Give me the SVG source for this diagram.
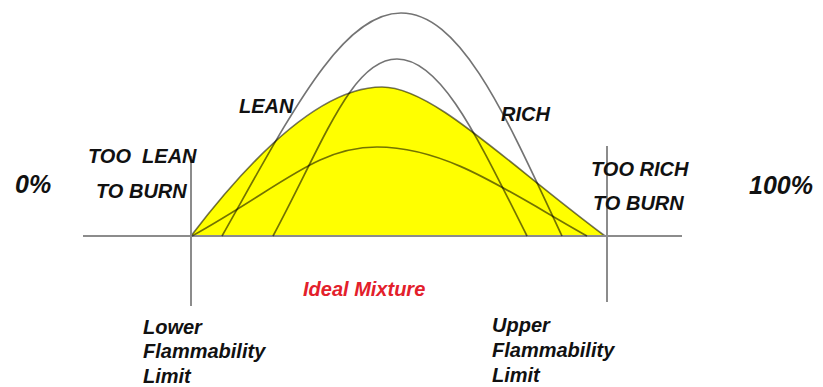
<svg xmlns="http://www.w3.org/2000/svg" width="823" height="387" viewBox="0 0 823 387">
  <style>
    .lbl { font-family: "Liberation Sans", Arial, sans-serif; font-weight: bold; font-style: italic; font-size: 20px; fill: #111; }
    .pct { font-size: 25px; }
    .red { fill: #e3202b; }
    .axis { stroke: #8c8c8c; stroke-width: 2; fill: none; }
    .curve { stroke: #000; stroke-opacity: 0.55; stroke-width: 1.7; fill: none; }
  </style>
  <rect width="823" height="387" fill="#fff"/>

  <!-- flammable region -->
  <g id="zone">
    <path d="M191,236 C252,156 322,87 382,87 C432,87 505,161.5 605,236 Z" fill="#ffff00" stroke="#000" stroke-opacity="0.55" stroke-width="1.7"/>
  </g>

  <!-- axis and limit markers -->
  <g id="axes">
    <line class="axis" x1="83" y1="236" x2="682" y2="236"/>
    <line class="axis" x1="191" y1="156" x2="191" y2="306"/>
    <line class="axis" x1="607" y1="146" x2="607" y2="302"/>
  </g>

  <!-- overlapping burning curves -->
  <g id="curves">
    <path class="curve" d="M192,236 C282,186 317,147 377,147 C447,147 507,191 587,236"/>
    <path class="curve" d="M273,236 C324,141 352,59 397,59 C442,59 479,141 527,236"/>
    <path class="curve" d="M222,236 C290,116 341,13 401,13 C461,13 506,116 562,236"/>
  </g>

  <g id="labels">
    <text class="lbl pct" x="15" y="193">0%</text>
    <text class="lbl pct" x="749" y="194">100%</text>
    <text class="lbl" x="88" y="163" xml:space="preserve">TOO  LEAN</text>
    <text class="lbl" x="96" y="198">TO BURN</text>
    <text class="lbl" x="591" y="176">TOO RICH</text>
    <text class="lbl" x="593" y="210">TO BURN</text>
    <text class="lbl" x="239" y="113">LEAN</text>
    <text class="lbl" x="501" y="121">RICH</text>
    <text class="lbl red" x="303" y="296">Ideal Mixture</text>
    <text class="lbl" x="143" y="334">Lower</text>
    <text class="lbl" x="143" y="358">Flammability</text>
    <text class="lbl" x="143" y="383">Limit</text>
    <text class="lbl" x="492" y="332">Upper</text>
    <text class="lbl" x="492" y="357">Flammability</text>
    <text class="lbl" x="492" y="382">Limit</text>
  </g>
</svg>
